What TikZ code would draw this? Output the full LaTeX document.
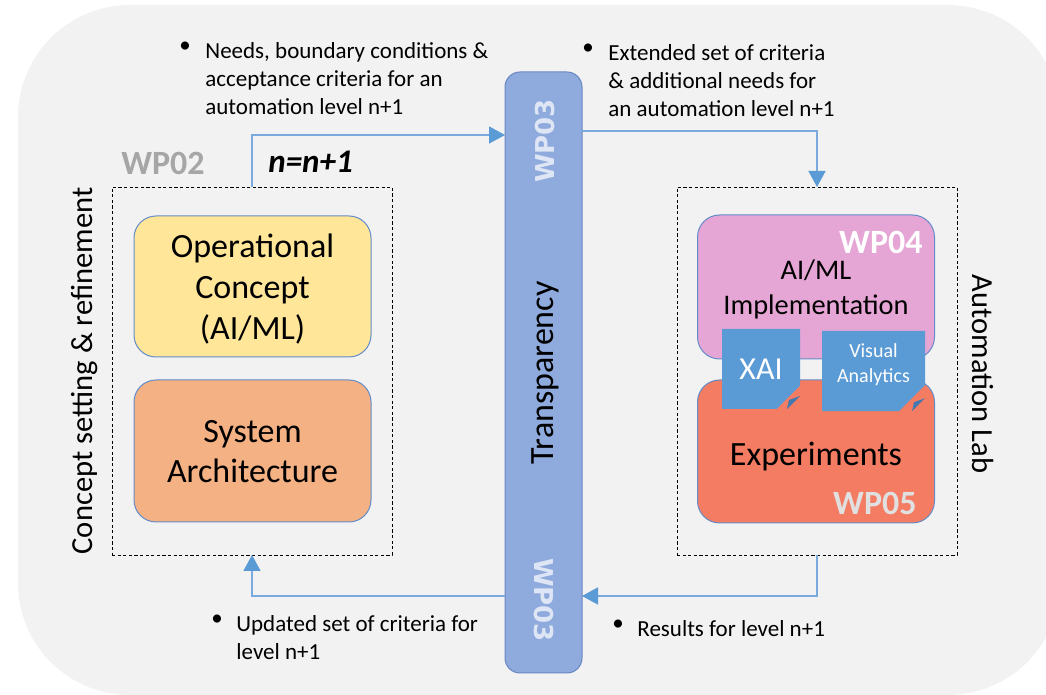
\documentclass[tikz,border=0pt]{standalone}
\usepackage{fontspec}
\setmainfont{Carlito}
\newfontfamily\wpfont{DejaVu Sans}
\usetikzlibrary{calc,arrows.meta,positioning,shapes.misc}
\tikzset{>=latex}
\definecolor{mygray}{RGB}{242,242,242}
\definecolor{mybarblue}{RGB}{143,170,220}
\definecolor{mybarline}{RGB}{105,135,195}
\definecolor{myyellow}{RGB}{255,230,153}
\definecolor{myorange}{RGB}{244,177,131}
\definecolor{mypink}{RGB}{229,166,214}
\definecolor{myred}{RGB}{244,124,98}
\definecolor{mynote}{RGB}{91,155,213}
\definecolor{myfold}{RGB}{65,120,175}
\definecolor{myboxline}{RGB}{100,140,200}
\definecolor{myline}{RGB}{120,170,222}
\definecolor{myarrow}{RGB}{91,155,213}
\definecolor{mywpgray}{RGB}{166,166,166}
\definecolor{mywpbar}{RGB}{222,230,246}

\begin{document}
\begin{tikzpicture}[x=0.5pt, y=-0.5pt,
  box/.style={draw=myboxline, line width=0.5pt, rounded corners=11pt, minimum width=118.5pt, outer sep=0pt, align=center},
  dashbox/.style={draw, dash pattern=on 1.6pt off 1.2pt, line width=0.45pt, minimum width=140pt, minimum height=184pt, outer sep=0pt},
  flow/.style={draw=myline, line width=0.8pt, -{Triangle[length=8pt, width=8.5pt, color=myarrow]}},
  txt/.style={inner sep=0pt, anchor=north west, align=left, font=\fontsize{11.5}{14}\selectfont},
  notebox/.style={chamfered rectangle, chamfered rectangle corners=south east, chamfered rectangle xsep=6.5pt, chamfered rectangle ysep=6.5pt, fill=mynote, inner sep=0pt, outer sep=0pt, text=white, align=center},
  wpbig/.style={inner sep=0pt, font=\fontsize{17}{20}\selectfont\bfseries}]
\clip (0,0) rectangle (1046,695);
\fill[mygray, rounded corners=56pt] (18,5) rectangle (1060,695);

\node[dashbox] (leftbox) at (252,371) {};
\node[dashbox] (rightbox) at (817,371) {};
\node[draw=mybarline, fill=mybarblue, line width=0.5pt, rounded corners=7.5pt, minimum width=38.5pt, minimum height=300.5pt, outer sep=0pt] (wpbar) at (543.5,372.5) {};

\draw[flow] (leftbox.north) |- (wpbar.west |- 0,135);
\draw[flow] (wpbar.east |- 0,131) -| (rightbox.north);
\draw[flow] (rightbox.south) |- (wpbar.east |- 0,596);
\draw[flow] (wpbar.west |- 0,596) -| (leftbox.south);

\node[rotate=90, text=mywpbar, font=\fontsize{13}{15}\wpfont\bfseries] (wptop) at (545,141) {WP03};
\node[rotate=-90, text=mywpbar, font=\fontsize{13}{15}\wpfont\bfseries] (wpbottom) at (544,600) {WP03};
\node[rotate=90, font=\fontsize{17}{20}\selectfont] (transp) at (545,373) {Transparency};

\node[box, fill=myyellow, minimum height=70.5pt, font=\fontsize{17}{20.5}\selectfont, text depth=-1pt] (opcon) at (252.5,286.5) {Operational\\Concept\\(AI/ML)};
\node[box, fill=myorange, minimum height=71pt, font=\fontsize{17}{20}\selectfont, text depth=-3pt] (sysarch) at (252.5,451) {System\\Architecture};
\node[box, fill=mypink, minimum height=72pt, font=\fontsize{14.2}{17.5}\selectfont, text depth=-8pt] (aiml) at (816,287) {AI/ML\\Implementation};
\node[box, fill=myred, minimum height=71.5pt] (exper) at (816,451.5) {};
\node[font=\fontsize{17}{20}\selectfont] (expertext) at (816,457) {Experiments};
\node[wpbig, text=white, anchor=east] (wpfour) at (923,242) {WP04};
\node[wpbig, text=black!12, anchor=east] (wpfive) at (917,503) {WP05};

\node[notebox, minimum width=39pt, minimum height=40pt, font=\fontsize{16}{18}\selectfont] (xai) at (761,369) {XAI};
\node[notebox, minimum width=51.5pt, minimum height=40pt, font=\fontsize{10}{12.3}\selectfont, text depth=8pt] (visual) at (873.5,371) {Visual\\Analytics};
\fill[myfold] ($(xai.south -| xai.east)+(0,-13)$) -- ($(xai.south -| xai.east)+(-13,0)$) -- ($(xai.south -| xai.east)+(-11,-9)$) -- cycle;
\fill[myfold] ($(visual.south -| visual.east)+(0,-13)$) -- ($(visual.south -| visual.east)+(-13,0)$) -- ($(visual.south -| visual.east)+(-11,-9)$) -- cycle;

\node[wpbig, text=mywpgray] (wptwo) at (163,163) {WP02};
\node[anchor=west, inner sep=0pt, font=\fontsize{16.5}{19}\selectfont\bfseries\itshape] (step) at (268,162) {n=n+1};

\node[rotate=90, font=\fontsize{15.3}{18}\selectfont] (concept) at (85,371) {Concept setting \& refinement};
\node[rotate=-90, font=\fontsize{15.3}{18}\selectfont] (autolab) at (983,374) {Automation Lab};

\node[txt] (needsdot) at (179,42) {\textbullet};
\node[txt] (needs) at (205,42) {Needs, boundary conditions \&\\acceptance criteria for an\\automation level n+1};
\node[txt] (extdot) at (582,44) {\textbullet};
\node[txt] (ext) at (608,44) {Extended set of criteria\\\& additional needs for\\an automation level n+1};
\node[txt] (upddot) at (211,615) {\textbullet};
\node[txt] (upd) at (236,615) {Updated set of criteria for\\level n+1};
\node[txt] (resdot) at (612,620) {\textbullet};
\node[txt] (res) at (637,620) {Results for level n+1};
\end{tikzpicture}
\end{document}
